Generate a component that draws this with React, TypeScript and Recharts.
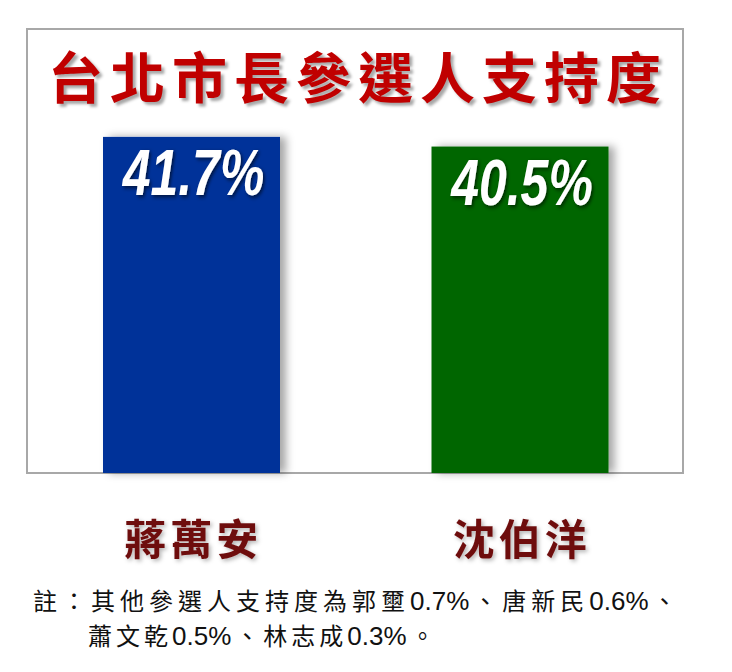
import React from 'react';
import { BarChart, Bar, XAxis, YAxis, Cell, LabelList } from 'recharts';

const candidates = ['蔣萬安', '沈伯洋'];
const support = [41.7, 40.5];
const barColors = ['#003399', '#006600'];
const otherNames = ['郭壐', '唐新民', '蕭文乾', '林志成'];
const otherSupport = [0.7, 0.6, 0.5, 0.3];

const TITLE = '台北市長參選人支持度';
const NOTE_HEAD = '註：其他參選人支持度為';

const data = candidates.map((name, i) => ({ name, value: support[i] }));

const cjk = '"Noto Sans CJK TC", "Noto Sans CJK SC", sans-serif';
const latin = '"Liberation Sans", Arial, sans-serif';

const BarShape = (props: any) => {
  const { x, y, width, height, fill } = props;
  return <rect x={x} y={y} width={width} height={height} fill={fill} filter="url(#barShadow)" />;
};

const ValueLabel = (props: any) => {
  const { x, y, width, value } = props;
  const cx = x + width / 2 + 2;
  return (
    <text
      transform={`translate(${cx},${y + 58}) scale(0.78,1)`}
      textAnchor="middle"
      fill="#fff"
      fontFamily={latin}
      fontWeight={700}
      fontStyle="italic"
      fontSize={64}
      filter="url(#textShadow)"
    >
      {`${value}%`}
    </text>
  );
};

const NameTick = (props: any) => {
  const { x, y, payload } = props;
  return (
    <text
      x={x + 2}
      y={y + 63}
      textAnchor="middle"
      dominantBaseline="central"
      fill="#6e1010"
      fontFamily={cjk}
      fontWeight={700}
      fontSize={42}
      letterSpacing={4}
      filter="url(#nameShadow)"
    >
      {payload.value}
    </text>
  );
};

const Other = ({ i, last }: { i: number; last: boolean }) => (
  <>
    <span>{otherNames[i]}</span>
    <span style={{ fontFamily: latin, fontSize: 26, letterSpacing: 0 }}>{`${otherSupport[i]}%`}</span>
    <span style={{ marginLeft: 4 }}>{last ? '。' : '、'}</span>
  </>
);

export default function App() {
  return (
    <div style={{ position: 'absolute', left: 0, top: 0, width: 732, height: 672, background: '#fff' }}>
      <div
        style={{
          position: 'absolute',
          left: 26,
          top: 28,
          width: 658,
          height: 446,
          boxSizing: 'border-box',
          border: '2px solid #a8a8a8',
        }}
      />
      <div
        style={{
          position: 'absolute',
          left: 48,
          top: 47,
          fontFamily: cjk,
          fontWeight: 700,
          fontSize: 55,
          lineHeight: '55px',
          letterSpacing: 7,
          color: '#c00000',
          whiteSpace: 'nowrap',
          textShadow: '3px 3px 3px rgba(0,0,0,0.35)',
        }}
      >
        {TITLE}
      </div>
      <div style={{ position: 'absolute', left: 0, top: 0 }}>
        <BarChart width={732} height={672} data={data} margin={{ top: 70, right: 48, bottom: 99, left: 27 }}>
          <defs>
            <filter id="barShadow" x="-20%" y="-10%" width="150%" height="120%">
              <feDropShadow dx={6} dy={0} stdDeviation={4} floodColor="#000" floodOpacity={0.35} />
            </filter>
            <filter id="textShadow" x="-20%" y="-20%" width="150%" height="150%">
              <feDropShadow dx={2} dy={2} stdDeviation={2} floodColor="#000" floodOpacity={0.6} />
            </filter>
            <filter id="nameShadow" x="-20%" y="-20%" width="150%" height="150%">
              <feDropShadow dx={2} dy={2} stdDeviation={2} floodColor="#000" floodOpacity={0.3} />
            </filter>
          </defs>
          <XAxis
            dataKey="name"
            height={100}
            axisLine={false}
            tickLine={false}
            tickSize={0}
            tickMargin={0}
            interval={0}
            tick={<NameTick />}
          />
          <YAxis hide domain={[0, 50]} />
          <Bar dataKey="value" barSize={177} shape={<BarShape />} isAnimationActive={false}>
            {data.map((d, i) => (
              <Cell key={d.name} fill={barColors[i]} />
            ))}
            <LabelList dataKey="value" content={<ValueLabel />} />
          </Bar>
        </BarChart>
      </div>
      <div
        style={{
          position: 'absolute',
          left: 33,
          top: 583,
          fontFamily: cjk,
          fontSize: 24,
          lineHeight: '34px',
          color: '#111',
          whiteSpace: 'nowrap',
        }}
      >
        <div style={{ letterSpacing: 5 }}>
          <span>{NOTE_HEAD}</span>
          <Other i={0} last={false} />
          <Other i={1} last={false} />
        </div>
        <div style={{ paddingLeft: 55, letterSpacing: 4 }}>
          <Other i={2} last={false} />
          <Other i={3} last={true} />
        </div>
      </div>
    </div>
  );
}
